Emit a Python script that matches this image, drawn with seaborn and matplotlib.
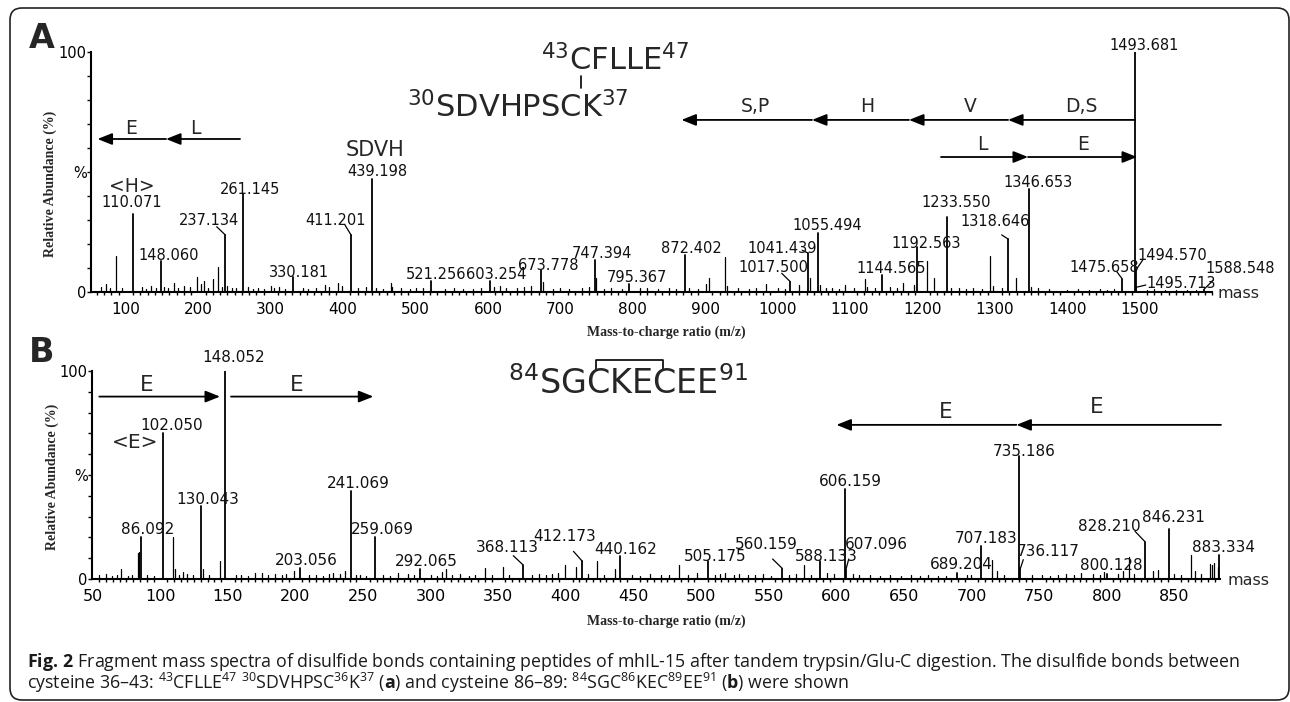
import matplotlib
matplotlib.use("Agg")
import numpy as np
import pandas as pd
import matplotlib.pyplot as plt
import seaborn as sns
from matplotlib.ticker import MultipleLocator, FixedLocator
from matplotlib.patches import FancyBboxPatch
from matplotlib.lines import Line2D

# ---------------- data: panel A ----------------
A_mz = [110.071, 148.060, 237.134, 261.145, 330.181, 411.201, 439.198, 521.256,
        603.254, 673.778, 747.394, 795.367, 872.402, 1017.500, 1041.439, 1055.494,
        1144.565, 1192.563, 1233.550, 1318.646, 1346.653, 1475.658, 1493.681,
        1494.570, 1495.713, 1588.548]
A_h = [32.7, 12.9, 23.8, 40.7, 6.3, 23.6, 47.2, 4.6,
       4.4, 9.0, 13.2, 3.5, 15.6, 4.3, 16.3, 24.6,
       6.9, 18.8, 31.3, 22.0, 42.8, 5.6, 100.0,
       9.0, 2.0, 1.0]
A_small_mz = [66, 72, 78, 85.8, 94, 122, 128, 135, 142, 152, 158, 166, 172, 180, 188,
              197.7, 203, 208, 213, 219.8, 227.6, 233, 240, 246, 252, 268, 275, 283, 290,
              300, 305, 312, 320, 345, 352, 362, 375, 380, 393.3, 398, 420, 431, 445,
              455, 465.7, 468, 480, 492, 500, 510, 540, 553, 565, 580, 590, 608, 616,
              625, 640, 650, 660, 676, 690, 700, 712, 730, 740, 749.5, 760, 770, 785,
              810, 820, 835, 850, 860, 878, 890, 901, 905, 927, 930, 945, 960, 970,
              984, 1000, 1010, 1030, 1045.2, 1058, 1067, 1075, 1085, 1093, 1105,
              1120.7, 1124, 1135, 1155, 1165, 1173.6, 1188, 1206.8, 1216, 1240, 1250,
              1260, 1270, 1282, 1293.4, 1297, 1310, 1329.3, 1350, 1360, 1375, 1400,
              1415, 1430, 1445, 1455, 1465, 1510, 1520, 1535, 1550, 1565, 1578]
A_small_h = [2.0, 3.2, 1.5, 14.9, 1.5, 2.0, 1.2, 2.5, 1.5, 2.0, 1.5, 3.9, 1.5, 2.5, 2.0,
             6.1, 3.5, 4.5, 1.5, 5.3, 10.5, 2.0, 2.5, 1.5, 1.5, 2.0, 1.2, 1.5, 1.2,
             2.5, 1.5, 2.0, 1.2, 1.5, 1.2, 1.5, 3.0, 2.0, 3.7, 2.5, 1.5, 2.0, 1.5,
             1.2, 3.6, 2.0, 1.5, 1.2, 1.5, 1.5, 1.2, 1.5, 1.2, 1.2, 1.5, 2.0, 2.5,
             1.5, 1.5, 2.0, 2.5, 4.0, 1.2, 1.5, 1.2, 1.5, 2.0, 6.0, 1.2, 1.5, 1.2,
             1.5, 1.5, 1.2, 1.5, 1.2, 1.5, 1.2, 3.5, 5.8, 14.6, 2.5, 1.5, 1.2, 1.5,
             3.5, 1.5, 1.2, 3.0, 6.0, 3.0, 1.5, 1.5, 1.2, 3.0, 1.5,
             5.5, 2.0, 1.5, 2.0, 1.5, 3.9, 3.0, 12.9, 6.0, 1.5, 1.5,
             1.2, 1.5, 1.2, 14.9, 2.4, 1.5, 6.0, 2.0, 1.5, 1.2, 1.0,
             1.2, 1.0, 1.2, 1.0, 1.2, 1.0, 1.2, 1.0, 1.0, 1.0, 0.8, 0.8]

# ---------------- data: panel B ----------------
B_mz = [86.092, 102.050, 130.043, 148.052, 203.056, 241.069, 259.069, 292.065,
        368.113, 412.173, 440.162, 505.175, 560.159, 588.133, 606.159, 607.096,
        689.204, 707.183, 735.186, 736.117, 800.128, 828.210, 846.231, 883.334]
B_h = [20.2, 70.4, 34.9, 100.0, 5.4, 42.4, 20.2, 4.6,
       6.9, 8.5, 10.9, 8.5, 5.0, 8.5, 43.2, 4.5,
       3.0, 16.0, 58.9, 5.0, 2.5, 18.0, 24.1, 11.7]
B_small_mz = [55, 60, 64, 68, 71, 76, 79, 83.5, 84.5, 90, 95, 109.5, 111, 114, 117,
              120, 124, 131.8, 136, 144.2, 156, 160, 165, 170, 175, 180, 185, 190,
              193, 198.9, 210, 215, 220, 225, 228, 233, 236.6, 245, 248, 252, 265,
              270, 276, 283, 288, 300, 305, 308.2, 311.3, 316, 322, 328, 333, 340.2,
              345, 353.3, 358, 375, 380, 385, 390, 394, 399.5, 407.5, 416, 422.8,
              428, 436.5, 449, 455, 462, 470, 476, 483.9, 490, 497, 510, 514, 518,
              524, 528, 535, 540, 546, 552, 565, 570, 576.4, 581, 593, 598, 612, 617,
              625, 632, 640, 648, 655, 662, 668, 675, 681, 697, 700, 715.5, 719, 724,
              745, 752, 758, 764, 770, 776, 781, 790, 795, 798, 808, 812, 816.2, 820,
              834.5, 838, 850, 855, 862, 865, 870, 876.3, 878, 879.5, 882]
B_small_h = [2.0, 2.5, 1.5, 2.0, 4.6, 1.5, 2.0, 12.5, 13.0, 2.0, 1.5, 20.2, 5.0, 2.0, 3.5,
             2.5, 2.0, 4.6, 2.0, 8.5, 2.0, 2.0, 1.5, 3.0, 3.0, 2.0, 2.5, 2.0,
             2.5, 4.0, 2.0, 2.0, 1.5, 2.5, 3.0, 2.5, 4.0, 2.0, 2.0, 1.5, 2.0,
             1.5, 3.0, 2.5, 2.0, 2.0, 1.5, 3.5, 4.6, 2.0, 2.5, 1.5, 2.0, 5.4,
             2.0, 5.7, 2.0, 2.0, 2.5, 2.0, 2.5, 3.0, 6.9, 5.7, 2.5, 8.5,
             2.0, 5.0, 2.0, 1.5, 2.5, 2.0, 2.0, 6.9, 2.0, 3.0, 2.0, 2.5, 3.0,
             2.0, 2.5, 2.0, 2.0, 2.5, 1.5, 2.0, 2.5, 6.9, 2.0, 3.0, 2.5, 2.5, 2.0,
             2.0, 1.5, 2.0, 1.5, 2.0, 1.5, 2.0, 1.5, 1.5, 2.0, 2.0, 9.3, 4.0, 2.0,
             2.0, 2.0, 1.5, 2.0, 2.5, 2.0, 3.0, 2.5, 2.0, 3.5, 2.5, 4.0, 10.4, 2.5,
             3.9, 4.5, 2.5, 2.0, 11.7, 4.0, 2.5, 7.0, 6.5, 7.5, 6.0]

# ---------------- layout (annotation positions, data units) ----------------
A_lab_pos = [(108.5, 37.1), (159.4, 15.4), (214.7, 29.6), (271.3, 42.9), (339, 8.3),
             (390, 29.6), (447, 50.0), (528.2, 7.1), (611.1, 7.1), (683, 11.25),
             (757.5, 16.25), (805.8, 6.25), (881.2, 18.3), (993.7, 10.4), (1006, 18.3),
             (1068.3, 27.5), (1156.7, 9.6), (1205, 20.4), (1246.5, 37.1), (1300.3, 29.2),
             (1359.7, 45.8), (1450.9, 10.4), (1506, 102.5), (1544.8, 15.4),
             (1557.3, 3.75), (1638.7, 9.6)]
A_leaders = {237.134: (225.3, 27.2), 411.201: (402.5, 27.9), 1017.500: (1005.7, 7.8),
             1041.439: (1034.0, 17.4), 1318.646: (1309.5, 23.8), 1475.658: (1468.4, 8.5),
             1494.570: (1504.3, 13.3), 1495.713: (1508.5, 2.9), 1588.548: (1601.9, 5.0)}
B_lab_pos = [(90.5, 23.7), (108.4, 73.6), (135.3, 38.1), (154.2, 106.6), (207.8, 8.8),
             (246.2, 45.8), (263.9, 23.7), (296.5, 8.2), (356.5, 15.0), (399.4, 20.5),
             (444.5, 14.1), (510.3, 10.9), (548.0, 16.5), (592.9, 10.9), (610.1, 46.9),
             (629.4, 16.5), (692.7, 6.9), (711.1, 19.7), (738.8, 61.1), (756.6, 13.1),
             (803.6, 6.4), (801.7, 25.3), (849.0, 29.4), (886.7, 15.2)]
B_leaders = {368.113: (361.1, 11.2), 412.173: (405.6, 13.3), 560.159: (552.9, 9.6),
             607.096: (609.2, 9.6), 736.117: (738.3, 9.3), 828.210: (821.0, 22.9)}

A_arrows = [((1493.7, 71.7), (1318.3, 71.7)), ((1318.3, 71.7), (1181.5, 71.7)),
            ((1181.5, 71.7), (1047.5, 71.7)), ((1047.5, 71.7), (867.2, 71.7)),
            ((1225.7, 56.25), (1345.9, 56.25)), ((1345.9, 56.25), (1496.5, 56.25)),
            ((257.5, 63.75), (155.3, 63.75)), ((155.3, 63.75), (60.7, 63.75))]
A_arrow_text = [("D,S", 1419, 77.1), ("V", 1265.8, 77.1), ("H", 1123.5, 77.1),
                ("S,P", 968.8, 77.1), ("L", 1282.3, 61.25), ("E", 1421.8, 61.25),
                ("L", 195.3, 68.3), ("E", 107.0, 68.3)]
B_arrows = [((54.9, 87.7), (144.2, 87.7)), ((152.3, 87.7), (257.6, 87.7)),
            ((733.2, 74.1), (600.1, 74.1)), ((884.5, 74.1), (733.2, 74.1))]
B_arrow_text = [("E", 90.3, 93.3), ("E", 200.9, 93.3), ("E", 681.0, 80.5), ("E", 792.8, 82.7)]

# ---------------- style ----------------
sns.set_theme(style="white")
plt.rcParams["font.family"] = ["DejaVu Sans"]
plt.rcParams["mathtext.fontset"] = "custom"
plt.rcParams["mathtext.rm"] = "Open Sans"
plt.rcParams["mathtext.it"] = "Open Sans:italic"
plt.rcParams["mathtext.bf"] = "Open Sans:bold"

W, H = 1290, 702
fig = plt.figure(figsize=(W / 100, H / 100), dpi=100)
fig.patch.set_facecolor("white")


def P(x, y):
    return x / W, 1 - y / H


def axes_px(x0, y0, x1, y1):
    return fig.add_axes([x0 / W, 1 - y1 / H, (x1 - x0) / W, (y1 - y0) / H])


def stems(mz, h):
    rows = []
    for i, (m, v) in enumerate(zip(mz, h)):
        rows.append((m, 0.0, i))
        rows.append((m, v, i))
    return pd.DataFrame(rows, columns=["mz", "ab", "pk"])


def draw_panel(ax, mz, h, smz, sh, xlim, majors, minor, lab_pos, leaders, lab_fs, tick_fs):
    sns.lineplot(data=stems(smz, sh), x="mz", y="ab", units="pk", estimator=None,
                 sort=False, color="black", lw=0.9, ax=ax, legend=False)
    sns.lineplot(data=stems(mz, h), x="mz", y="ab", units="pk", estimator=None,
                 sort=False, color="black", lw=1.3, ax=ax, legend=False)
    ax.set_xlim(*xlim)
    ax.set_ylim(0, 100)
    ax.set_xlabel("")
    ax.set_ylabel("")
    ax.set_facecolor("none")
    sns.despine(ax=ax)
    for s in ("left", "bottom"):
        ax.spines[s].set_color("black")
        ax.spines[s].set_linewidth(1.5)
    ax.xaxis.set_major_locator(FixedLocator(majors))
    ax.xaxis.set_minor_locator(MultipleLocator(minor))
    ax.tick_params(axis="x", which="major", direction="out", length=4, width=1.2,
                   labelsize=tick_fs, pad=3, colors="black")
    ax.tick_params(axis="x", which="minor", direction="out", length=2.5, width=1.0,
                   colors="black", bottom=True)
    ax.set_yticks(list(range(0, 101, 10)))
    ax.set_yticklabels(["0", "", "", "", "", "%", "", "", "", "", "100"])
    ax.tick_params(axis="y", direction="out", length=3, width=1.0, labelsize=10.5,
                   pad=0, colors="black", left=True)
    for m, v, (lx, ly) in zip(mz, h, lab_pos):
        ax.text(lx, ly, f"{m:.3f}", ha="center", va="center", fontsize=lab_fs,
                color="#111111", clip_on=False)
        if m in leaders:
            sx, sy = leaders[m]
            ax.plot([sx, m], [sy, v], color="black", lw=0.9, clip_on=False)


def draw_arrows(ax, arrows, texts, fs):
    for (t, hd) in arrows:
        ax.annotate("", xy=hd, xytext=t, xycoords="data", annotation_clip=False,
                    arrowprops=dict(arrowstyle="-|>,head_length=0.55,head_width=0.22",
                                    color="black", lw=1.3, shrinkA=0, shrinkB=0,
                                    mutation_scale=16))
    for s, x, y in texts:
        ax.text(x, y, s, ha="center", va="center", fontsize=fs, clip_on=False)


# ---------------- panel A ----------------
axA = axes_px(91, 52, 1212, 292)
draw_panel(axA, A_mz, A_h, A_small_mz, A_small_h, (51.7, 1600),
           list(range(100, 1501, 100)), 10, A_lab_pos, A_leaders, 10.5, 11)
draw_arrows(axA, A_arrows, A_arrow_text, 13.5)
axA.text(108.3, 43.9, "<H>", ha="center", va="center", fontsize=13.5, clip_on=False)
axA.text(444, 59.2, "SDVH", ha="center", va="center", fontsize=15, clip_on=False)
axA.text(1637, -0.8, "mass", ha="center", va="center", fontsize=11.5, clip_on=False)

# ---------------- panel B ----------------
axB = axes_px(92, 371, 1220, 579)
draw_panel(axB, B_mz, B_h, B_small_mz, B_small_h, (49.5, 883.8),
           list(range(50, 851, 50)), 5, B_lab_pos, B_leaders, 11, 11.5)
draw_arrows(axB, B_arrows, B_arrow_text, 15.5)
axB.text(81.3, 65.6, "<E>", ha="center", va="center", fontsize=14.5, clip_on=False)
axB.text(905, -0.7, "mass", ha="center", va="center", fontsize=11.5, clip_on=False)

# ---------------- figure-level text ----------------
fig.text(*P(41.5, 39), "A", fontsize=24, fontweight="bold", ha="center", va="center")
fig.text(*P(41.5, 352), "B", fontsize=24, fontweight="bold", ha="center", va="center")

serif = dict(family=["Liberation Serif", "DejaVu Serif"], fontweight="bold", fontsize=10,
             ha="center", va="center")
fig.text(*P(50, 184), "Relative Abundance (%)", rotation=90, **serif)
fig.text(*P(52, 477), "Relative Abundance (%)", rotation=90, **serif)
fig.text(*P(666, 332), "Mass-to-charge ratio (m/z)", **serif)
fig.text(*P(666, 621), "Mass-to-charge ratio (m/z)", **serif)

fig.text(*P(541, 60), r"$\mathregular{^{43}}$CFLLE$\mathregular{^{47}}$", fontsize=22,
         ha="left", va="center")
fig.text(*P(407, 107), r"$\mathregular{^{30}}$SDVHPSCK$\mathregular{^{37}}$", fontsize=22,
         ha="left", va="center")
fig.add_artist(Line2D([581 / W, 581 / W], [1 - 76 / H, 1 - 88 / H], color="black", lw=1.2))
fig.text(*P(508, 384), r"$\mathregular{^{84}}$SGCKECEE$\mathregular{^{91}}$", fontsize=24,
         ha="left", va="center")
bx0, bx1, by0, by1 = 596, 663, 359.5, 369.5
fig.add_artist(Line2D([bx0 / W, bx0 / W, bx1 / W, bx1 / W],
                      [1 - by1 / H, 1 - by0 / H, 1 - by0 / H, 1 - by1 / H],
                      color="black", lw=1.2))

cap = dict(family=["Open Sans", "DejaVu Sans"], fontsize=12.8, ha="left", va="center",
           color="#1a1a1a")
fig.text(*P(26.7, 661.7),
         r"$\mathbf{Fig.}$$\mathbf{\,2}$ Fragment mass spectra of disulfide bonds containing peptides of "
         r"mhIL-15 after tandem trypsin/Glu-C digestion. The disulfide bonds between", **cap)
fig.text(*P(26.7, 683),
         r"cysteine 36–43: $\mathregular{^{43}}$CFLLE$\mathregular{^{47}}$ "
         r"$\mathregular{^{30}}$SDVHPSC$\mathregular{^{36}}$K$\mathregular{^{37}}$ "
         r"($\mathbf{a}$) and cysteine 86–89: $\mathregular{^{84}}$SGC$\mathregular{^{86}}$"
         r"KEC$\mathregular{^{89}}$EE$\mathregular{^{91}}$ ($\mathbf{b}$) were shown", **cap)

fig.patches.append(FancyBboxPatch((0.10, 0.02), 12.79, 6.92,
                                  boxstyle="round,pad=0,rounding_size=0.12",
                                  transform=fig.dpi_scale_trans, fill=False,
                                  lw=1.2, ec="#222222"))

fig.savefig("out.png", dpi=100, facecolor="white")
